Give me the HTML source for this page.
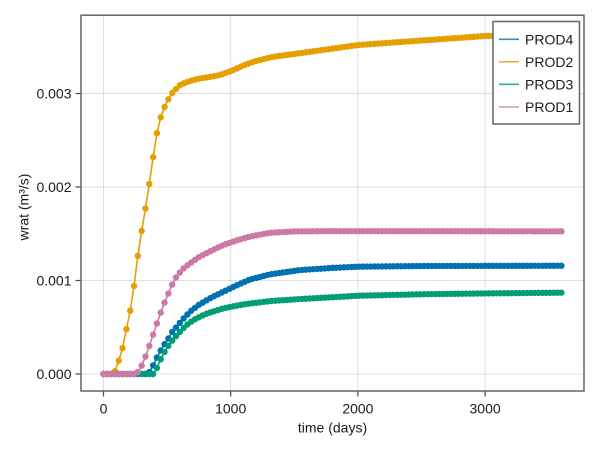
<!DOCTYPE html>
<html>
<head>
<meta charset="utf-8">
<style>
  html,body{margin:0;padding:0;background:#fff;}
  svg{display:block;}
  text{font-family:"Liberation Sans", Arial, sans-serif;font-size:14px;fill:#1a1a1a;}
</style>
</head>
<body>
<svg id="chart" width="600" height="450" viewBox="0 0 600 450" xmlns="http://www.w3.org/2000/svg">
  <rect x="0" y="0" width="600" height="450" fill="#fff"/>
  <!-- grid -->
  <g stroke="rgba(0,0,0,0.12)" stroke-width="1">
    <line x1="103.5" y1="15" x2="103.5" y2="391"/>
    <line x1="230.7" y1="15" x2="230.7" y2="391"/>
    <line x1="357.9" y1="15" x2="357.9" y2="391"/>
    <line x1="485.1" y1="15" x2="485.1" y2="391"/>
    <line x1="81" y1="374" x2="584" y2="374"/>
    <line x1="81" y1="280.5" x2="584" y2="280.5"/>
    <line x1="81" y1="187" x2="584" y2="187"/>
    <line x1="81" y1="93.5" x2="584" y2="93.5"/>
  </g>
  <g id="series"></g>
  <!-- spines -->
  <rect x="81" y="15.2" width="503" height="375.8" fill="none" stroke="#6e6e6e" stroke-width="1.6"/>
  <!-- ticks -->
  <g stroke="#4a4a4a" stroke-width="1.2">
    <line x1="75.5" y1="374" x2="81" y2="374"/>
    <line x1="75.5" y1="280.5" x2="81" y2="280.5"/>
    <line x1="75.5" y1="187" x2="81" y2="187"/>
    <line x1="75.5" y1="93.5" x2="81" y2="93.5"/>
    <line x1="103.5" y1="391" x2="103.5" y2="396.5"/>
    <line x1="230.7" y1="391" x2="230.7" y2="396.5"/>
    <line x1="357.9" y1="391" x2="357.9" y2="396.5"/>
    <line x1="485.1" y1="391" x2="485.1" y2="396.5"/>
  </g>
  <!-- tick labels -->
  <g text-anchor="end">
    <text x="71.5" y="379">0.000</text>
    <text x="71.5" y="285.5">0.001</text>
    <text x="71.5" y="192">0.002</text>
    <text x="71.5" y="98.5">0.003</text>
  </g>
  <g text-anchor="middle">
    <text x="103.5" y="413.5">0</text>
    <text x="230.7" y="413.5">1000</text>
    <text x="357.9" y="413.5">2000</text>
    <text x="485.1" y="413.5">3000</text>
  </g>
  <!-- axis labels -->
  <text x="332.5" y="432.5" text-anchor="middle">time (days)</text>
  <text transform="translate(28.5,207) rotate(-90)" text-anchor="middle">wrat (m³/s)</text>
  <!-- legend -->
  <rect x="493" y="21.5" width="86.5" height="102.5" fill="#fff" stroke="#6e6e6e" stroke-width="1.6"/>
  <g stroke-width="1.6">
    <line x1="499" y1="39.3" x2="519" y2="39.3" stroke="#0072B2" stroke-opacity="0.8"/>
    <line x1="499" y1="61.8" x2="519" y2="61.8" stroke="#E69F00" stroke-opacity="0.8"/>
    <line x1="499" y1="84.3" x2="519" y2="84.3" stroke="#009E73" stroke-opacity="0.8"/>
    <line x1="499" y1="107" x2="519" y2="107" stroke="#CC79A7" stroke-opacity="0.8"/>
  </g>
  <text x="525" y="44.3">PROD4</text>
  <text x="525" y="66.8">PROD2</text>
  <text x="525" y="89.3">PROD3</text>
  <text x="525" y="112">PROD1</text>
</svg>
<script>
(function(){
  var X0=103.5, SX=0.1272, Y0=374, SY=93.5;
  var series=[
    {c:"#0072B2", a:[[0,0],[350,0],[379,0.06],[410,0.15],[445,0.24],[475,0.31],[510,0.38],[540,0.45],[576,0.506],[620,0.58],[681,0.667],[750,0.74],[850,0.82],[943,0.88],[1050,0.95],[1150,1.01],[1310,1.066],[1546,1.112],[1800,1.135],[2005,1.148],[2500,1.155],[3600,1.158]]},
    {c:"#E69F00", a:[[0,0],[80,0],[104,0.072],[148,0.264],[177,0.46],[211,0.684],[242,0.96],[269,1.255],[300,1.53],[329,1.761],[358,2.014],[389,2.31],[419,2.57],[450,2.745],[479,2.853],[510,2.938],[541,3.009],[602,3.091],[680,3.135],[759,3.162],[850,3.18],[917,3.198],[1020,3.25],[1100,3.30],[1179,3.34],[1336,3.394],[1538,3.43],[2005,3.519],[3002,3.615],[3600,3.63]]},
    {c:"#009E73", a:[[0,0],[390,0],[405,0.025],[430,0.09],[458,0.185],[490,0.26],[523,0.328],[560,0.39],[602,0.452],[650,0.52],[707,0.578],[800,0.64],[943,0.703],[1100,0.745],[1310,0.78],[1546,0.802],[2005,0.837],[2500,0.853],[3000,0.862],[3600,0.87]]},
    {c:"#CC79A7", a:[[0,0],[260,0],[290,0.06],[320,0.15],[350,0.26],[380,0.38],[410,0.50],[440,0.62],[470,0.73],[500,0.83],[530,0.92],[552,1.0],[580,1.05],[620,1.12],[681,1.184],[750,1.25],[850,1.32],[943,1.38],[1050,1.43],[1150,1.47],[1310,1.511],[1500,1.525],[1800,1.528],[3600,1.526]]}
  ];
  function interp(a,t){
    for(var i=0;i<a.length-1;i++){
      if(t>=a[i][0]&&t<=a[i+1][0]){
        var f=(t-a[i][0])/(a[i+1][0]-a[i][0]);
        return a[i][1]+f*(a[i+1][1]-a[i][1]);
      }
    }
    return a[a.length-1][1];
  }
  var g=document.getElementById("series");
  var ns="http://www.w3.org/2000/svg";
  var html="";
  series.forEach(function(s){
    var pts=[];
    for(var k=0;k<=120;k++){
      var t=30*k;
      var v=interp(s.a,t);
      pts.push([(X0+t*SX).toFixed(2),(Y0-v*SY).toFixed(2)]);
    }
    html+='<polyline fill="none" stroke="'+s.c+'" stroke-width="1.6" points="'+pts.map(function(p){return p[0]+","+p[1];}).join(" ")+'"/>';
    html+='<g fill="'+s.c+'">';
    pts.forEach(function(p){html+='<circle cx="'+p[0]+'" cy="'+p[1]+'" r="3.2"/>';});
    html+='</g>';
  });
  g.innerHTML=html;
})();
</script>
</body>
</html>
